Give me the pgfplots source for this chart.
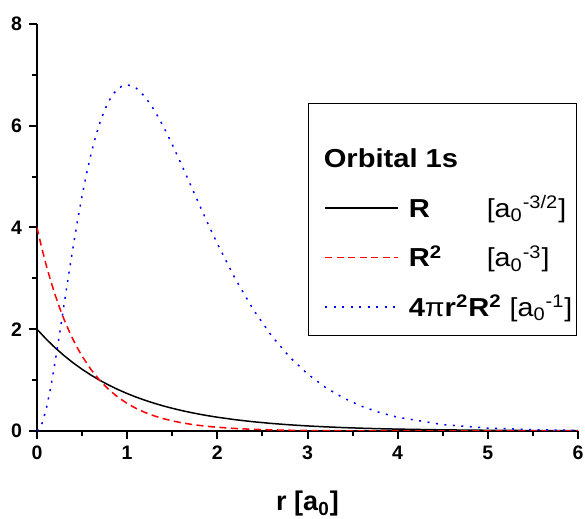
\documentclass[border=0pt]{standalone}
\usepackage{fontspec}
\setmainfont{Liberation Sans}
\newfontfamily\legfont{Liberation Sans}[FakeStretch=1.1, BoldFeatures={FakeStretch=1.12}]
\usepackage{pgfplots}
\pgfplotsset{compat=1.18}

\begin{document}
\begin{tikzpicture}
\begin{axis}[
  scale only axis, width=270.5pt, height=203.5pt,
  xmin=0, xmax=6, ymin=0, ymax=8,
  axis lines*=left, axis line style={line width=1pt},
  xtick={0,1,...,6}, ytick={0,2,4,6,8},
  minor x tick num=1, minor y tick num=1,
  tick align=outside, major tick length=4pt, minor tick length=2.5pt,
  tick style={line width=1pt, black},
  /pgf/number format/assume math mode=true,
  tick label style={font=\fontsize{9.75}{10}\selectfont\bfseries},
  xlabel={r [a\textsubscript{0}]},
  xlabel style={font=\fontsize{13.5}{16}\selectfont\bfseries,
    at={(axis description cs:0.5,0)}, anchor=base, yshift=-40pt},
  legend style={at={(0.998,0.806)}, anchor=north east, draw=black,
    line width=0.5pt, font=\legfont\fontsize{13}{15}\selectfont,
    inner xsep=0pt, inner ysep=8pt, row sep=12.5pt, column sep=0pt,
    nodes={inner xsep=2pt, inner ysep=0pt}},
  legend cell align=left,
  % the bare points at 0pt and 47.5pt only widen the cell
  legend image code/.code={\draw[#1] (0pt,0pt) (8pt,0pt) -- (44.5pt,0pt) (47.5pt,0pt);},
]
\coordinate (o) at (rel axis cs:0,0);
\coordinate (t) at (rel axis cs:1,1);
\addlegendimage{empty legend}
\addlegendentry{\hspace*{-42.5pt}\rule{0pt}{24pt}\textbf{Orbital 1s}}

\addplot[black, line width=0.75pt] coordinates {
  (0,2.0000) (0.1,1.8097) (0.2,1.6375) (0.3,1.4816) (0.4,1.3406)
  (0.5,1.2131) (0.6,1.0976) (0.7,0.9932) (0.8,0.8987) (0.9,0.8131)
  (1.0,0.7358) (1.1,0.6657) (1.2,0.6024) (1.3,0.5451) (1.4,0.4932)
  (1.5,0.4463) (1.6,0.4038) (1.7,0.3654) (1.8,0.3306) (1.9,0.2991)
  (2.0,0.2707) (2.2,0.2216) (2.4,0.1814) (2.6,0.1485) (2.8,0.1216)
  (3.0,0.0996) (3.2,0.0815) (3.4,0.0667) (3.6,0.0546) (3.8,0.0447)
  (4.0,0.0366) (4.5,0.0222) (5.0,0.0135) (5.5,0.0082) (6.0,0.0050)};
\addlegendentry{\makebox[39pt][l]{\textbf{R}}[a\textsubscript{0}\textsuperscript{-3/2}]}

\addplot[red, line width=0.75pt, dash pattern=on 3.5pt off 2.25pt] coordinates {
  (0,4.0000) (0.05,3.6193) (0.1,3.2749) (0.15,2.9633) (0.2,2.6813)
  (0.25,2.4261) (0.3,2.1952) (0.35,1.9863) (0.4,1.7973) (0.45,1.6263)
  (0.5,1.4715) (0.6,1.2048) (0.7,0.9864) (0.8,0.8076) (0.9,0.6612)
  (1.0,0.5413) (1.1,0.4432) (1.2,0.3629) (1.3,0.2971) (1.4,0.2432)
  (1.5,0.1991) (1.6,0.1630) (1.7,0.1335) (1.8,0.1093) (1.9,0.0895)
  (2.0,0.0733) (2.2,0.0491) (2.4,0.0329) (2.6,0.0221) (2.8,0.0148)
  (3.0,0.0099) (3.2,0.0066) (3.4,0.0045) (3.6,0.0030) (3.8,0.0020)
  (4.0,0.0013) (4.5,0.0005) (5.0,0.0002) (6.0,0.0000)};
\addlegendentry{\makebox[39pt][l]{\textbf{R\textsuperscript{2}}}[a\textsubscript{0}\textsuperscript{-3}]}

\addplot[blue, line width=0.75pt, dash pattern=on 1pt off 3.25pt] coordinates {
  (0,0.0000) (0.05,0.1137) (0.1,0.4115) (0.15,0.8379) (0.2,1.3477)
  (0.25,1.9055) (0.3,2.4828) (0.35,3.0577) (0.4,3.6137) (0.45,4.1384)
  (0.5,4.6229) (0.55,5.0614) (0.6,5.4503) (0.65,5.7878) (0.7,6.0737)
  (0.75,6.3089) (0.8,6.4950) (0.85,6.6346) (0.9,6.7302) (0.95,6.7851)
  (1.0,6.8027) (1.05,6.7862) (1.1,6.7392) (1.2,6.5664) (1.3,6.3095)
  (1.4,5.9911) (1.5,5.6308) (1.6,5.2453) (1.7,4.8480) (1.8,4.4500)
  (1.9,4.0594) (2.0,3.6826) (2.2,2.9868) (2.4,2.3828) (2.6,1.8747)
  (2.8,1.4573) (3.0,1.1215) (3.2,0.8555) (3.4,0.6473) (3.6,0.4866)
  (3.8,0.3629) (4.0,0.2698) (4.5,0.1256) (5.0,0.0571) (5.5,0.0254)
  (6.0,0.0111)};
\addlegendentry{\textbf{4}π\textbf{r\textsuperscript{2}R\textsuperscript{2}} [a\textsubscript{0}\textsuperscript{-1}]}
\end{axis}
\pgfresetboundingbox
\path ([shift={(-18.5pt,-44pt)}]o) rectangle ([shift={(3.5pt,12pt)}]t);
\end{tikzpicture}
\end{document}
